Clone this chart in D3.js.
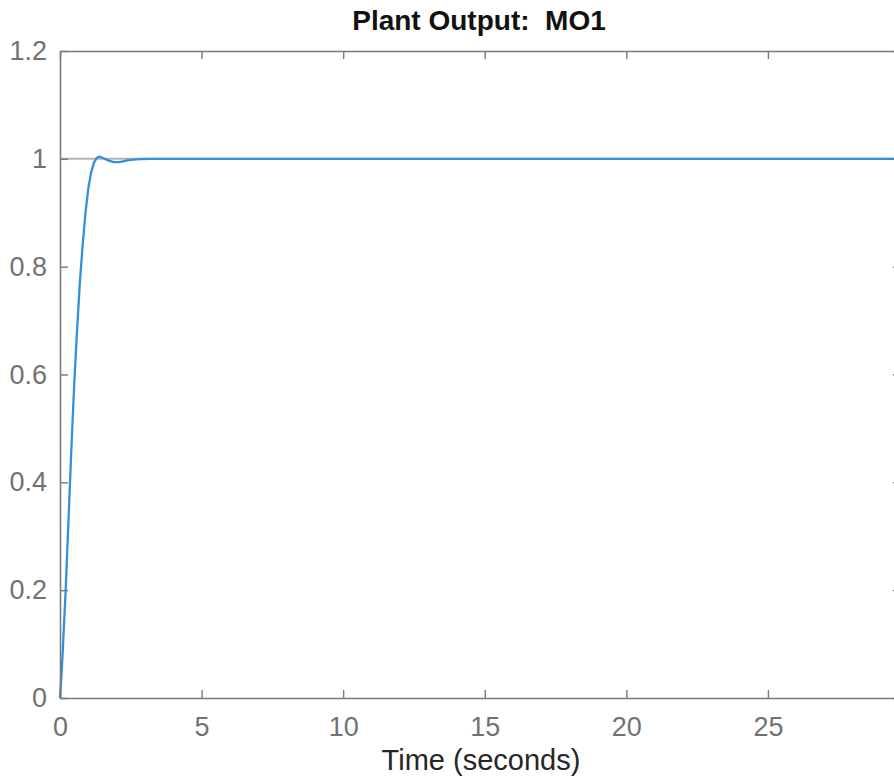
<!DOCTYPE html>
<html>
<head>
<meta charset="utf-8">
<script src="https://cdn.jsdelivr.net/npm/d3@7"></script>
<style>
  html, body { margin: 0; padding: 0; background: #fff; overflow: hidden; }
  svg { display: block; }
  text { font-family: "Liberation Sans", Arial, Helvetica, sans-serif; }
</style>
</head>
<body>
<svg id="chart" width="894" height="778"></svg>
<script>
// ---- data ----
const title = "Plant Output:  MO1";
const xLabel = "Time (seconds)";
const timeValues = [0, 0.05, 0.1, 0.2, 0.3, 0.4, 0.5, 0.6, 0.7, 0.8, 0.9, 1.0, 1.1, 1.2, 1.3, 1.4, 1.5, 1.7, 1.9, 2.1, 2.3, 2.5, 2.8, 3.2, 4, 6, 10, 15, 20, 25, 29.7];
const outputValues = [0, 0.04, 0.09, 0.2, 0.33, 0.46, 0.58, 0.68, 0.77, 0.84, 0.9, 0.945, 0.975, 0.993, 1.002, 1.004, 1.002, 0.997, 0.994, 0.994, 0.996, 0.998, 0.9995, 1.0, 1.0, 1.0, 1.0, 1.0, 1.0, 1.0, 1.0];
const referenceValue = 1;
const xTicks = [0, 5, 10, 15, 20, 25];
const yTicks = [0, 0.2, 0.4, 0.6, 0.8, 1, 1.2];
const xDomain = [0, 29.7];
const yDomain = [0, 1.2];

// ---- layout ----
const mLeft = 60, mRight = 901, mTop = 51, mBottom = 698;
const svg = d3.select("#chart");

const x = d3.scaleLinear().domain(xDomain).range([mLeft, mRight]);
const y = d3.scaleLinear().domain(yDomain).range([mBottom, mTop]);

const axisColor = "#7a7a7a";
const labelColor = "#727272";
const tickLen = 8;

// reference line at steady-state value
svg.append("line")
  .attr("x1", x(xDomain[0])).attr("x2", x(xDomain[1]))
  .attr("y1", y(referenceValue)).attr("y2", y(referenceValue))
  .attr("stroke", "#b4b4b4").attr("stroke-width", 2);

// response line
const line = d3.line().x((d, i) => x(timeValues[i])).y(d => y(d)).curve(d3.curveLinear);
svg.append("path")
  .datum(outputValues)
  .attr("d", line)
  .attr("fill", "none")
  .attr("stroke", "#3590da")
  .attr("stroke-width", 2.3)
  .attr("stroke-linejoin", "round");

// axes (ticks inward on all four sides)
function styleAxis(g) {
  g.select(".domain").attr("stroke", axisColor).attr("stroke-width", 1.6);
  g.selectAll(".tick line").attr("stroke", axisColor).attr("stroke-width", 1.4);
  g.selectAll(".tick text").attr("fill", labelColor).attr("font-size", 27)
    .attr("font-family", "'Liberation Sans', Arial, sans-serif");
}

const fmtY = d => String(+d.toFixed(1));

svg.append("g").attr("transform", `translate(0,${mBottom})`)
  .call(d3.axisBottom(x).tickValues(xTicks).tickSizeInner(-tickLen).tickSizeOuter(0).tickPadding(19).tickFormat(d3.format("d")))
  .call(styleAxis);
svg.append("g").attr("transform", `translate(0,${mTop})`)
  .call(d3.axisTop(x).tickValues(xTicks).tickSizeInner(-tickLen).tickSizeOuter(0).tickFormat(""))
  .call(styleAxis);
svg.append("g").attr("transform", `translate(${mLeft},0)`)
  .call(d3.axisLeft(y).tickValues(yTicks).tickSizeInner(-tickLen).tickSizeOuter(0).tickPadding(13).tickFormat(fmtY))
  .call(styleAxis);
svg.append("g").attr("transform", `translate(${mRight},0)`)
  .call(d3.axisRight(y).tickValues(yTicks).tickSizeInner(-tickLen).tickSizeOuter(0).tickFormat(""))
  .call(styleAxis);

// title
svg.append("text")
  .attr("x", 479).attr("y", 30)
  .attr("text-anchor", "middle")
  .attr("font-size", 28).attr("font-weight", "bold").attr("fill", "#111")
  .style("white-space", "pre")
  .text(title);

// x label
svg.append("text")
  .attr("x", 481).attr("y", 770)
  .attr("text-anchor", "middle")
  .attr("font-size", 29).attr("fill", "#262626")
  .text(xLabel);
</script>
</body>
</html>
